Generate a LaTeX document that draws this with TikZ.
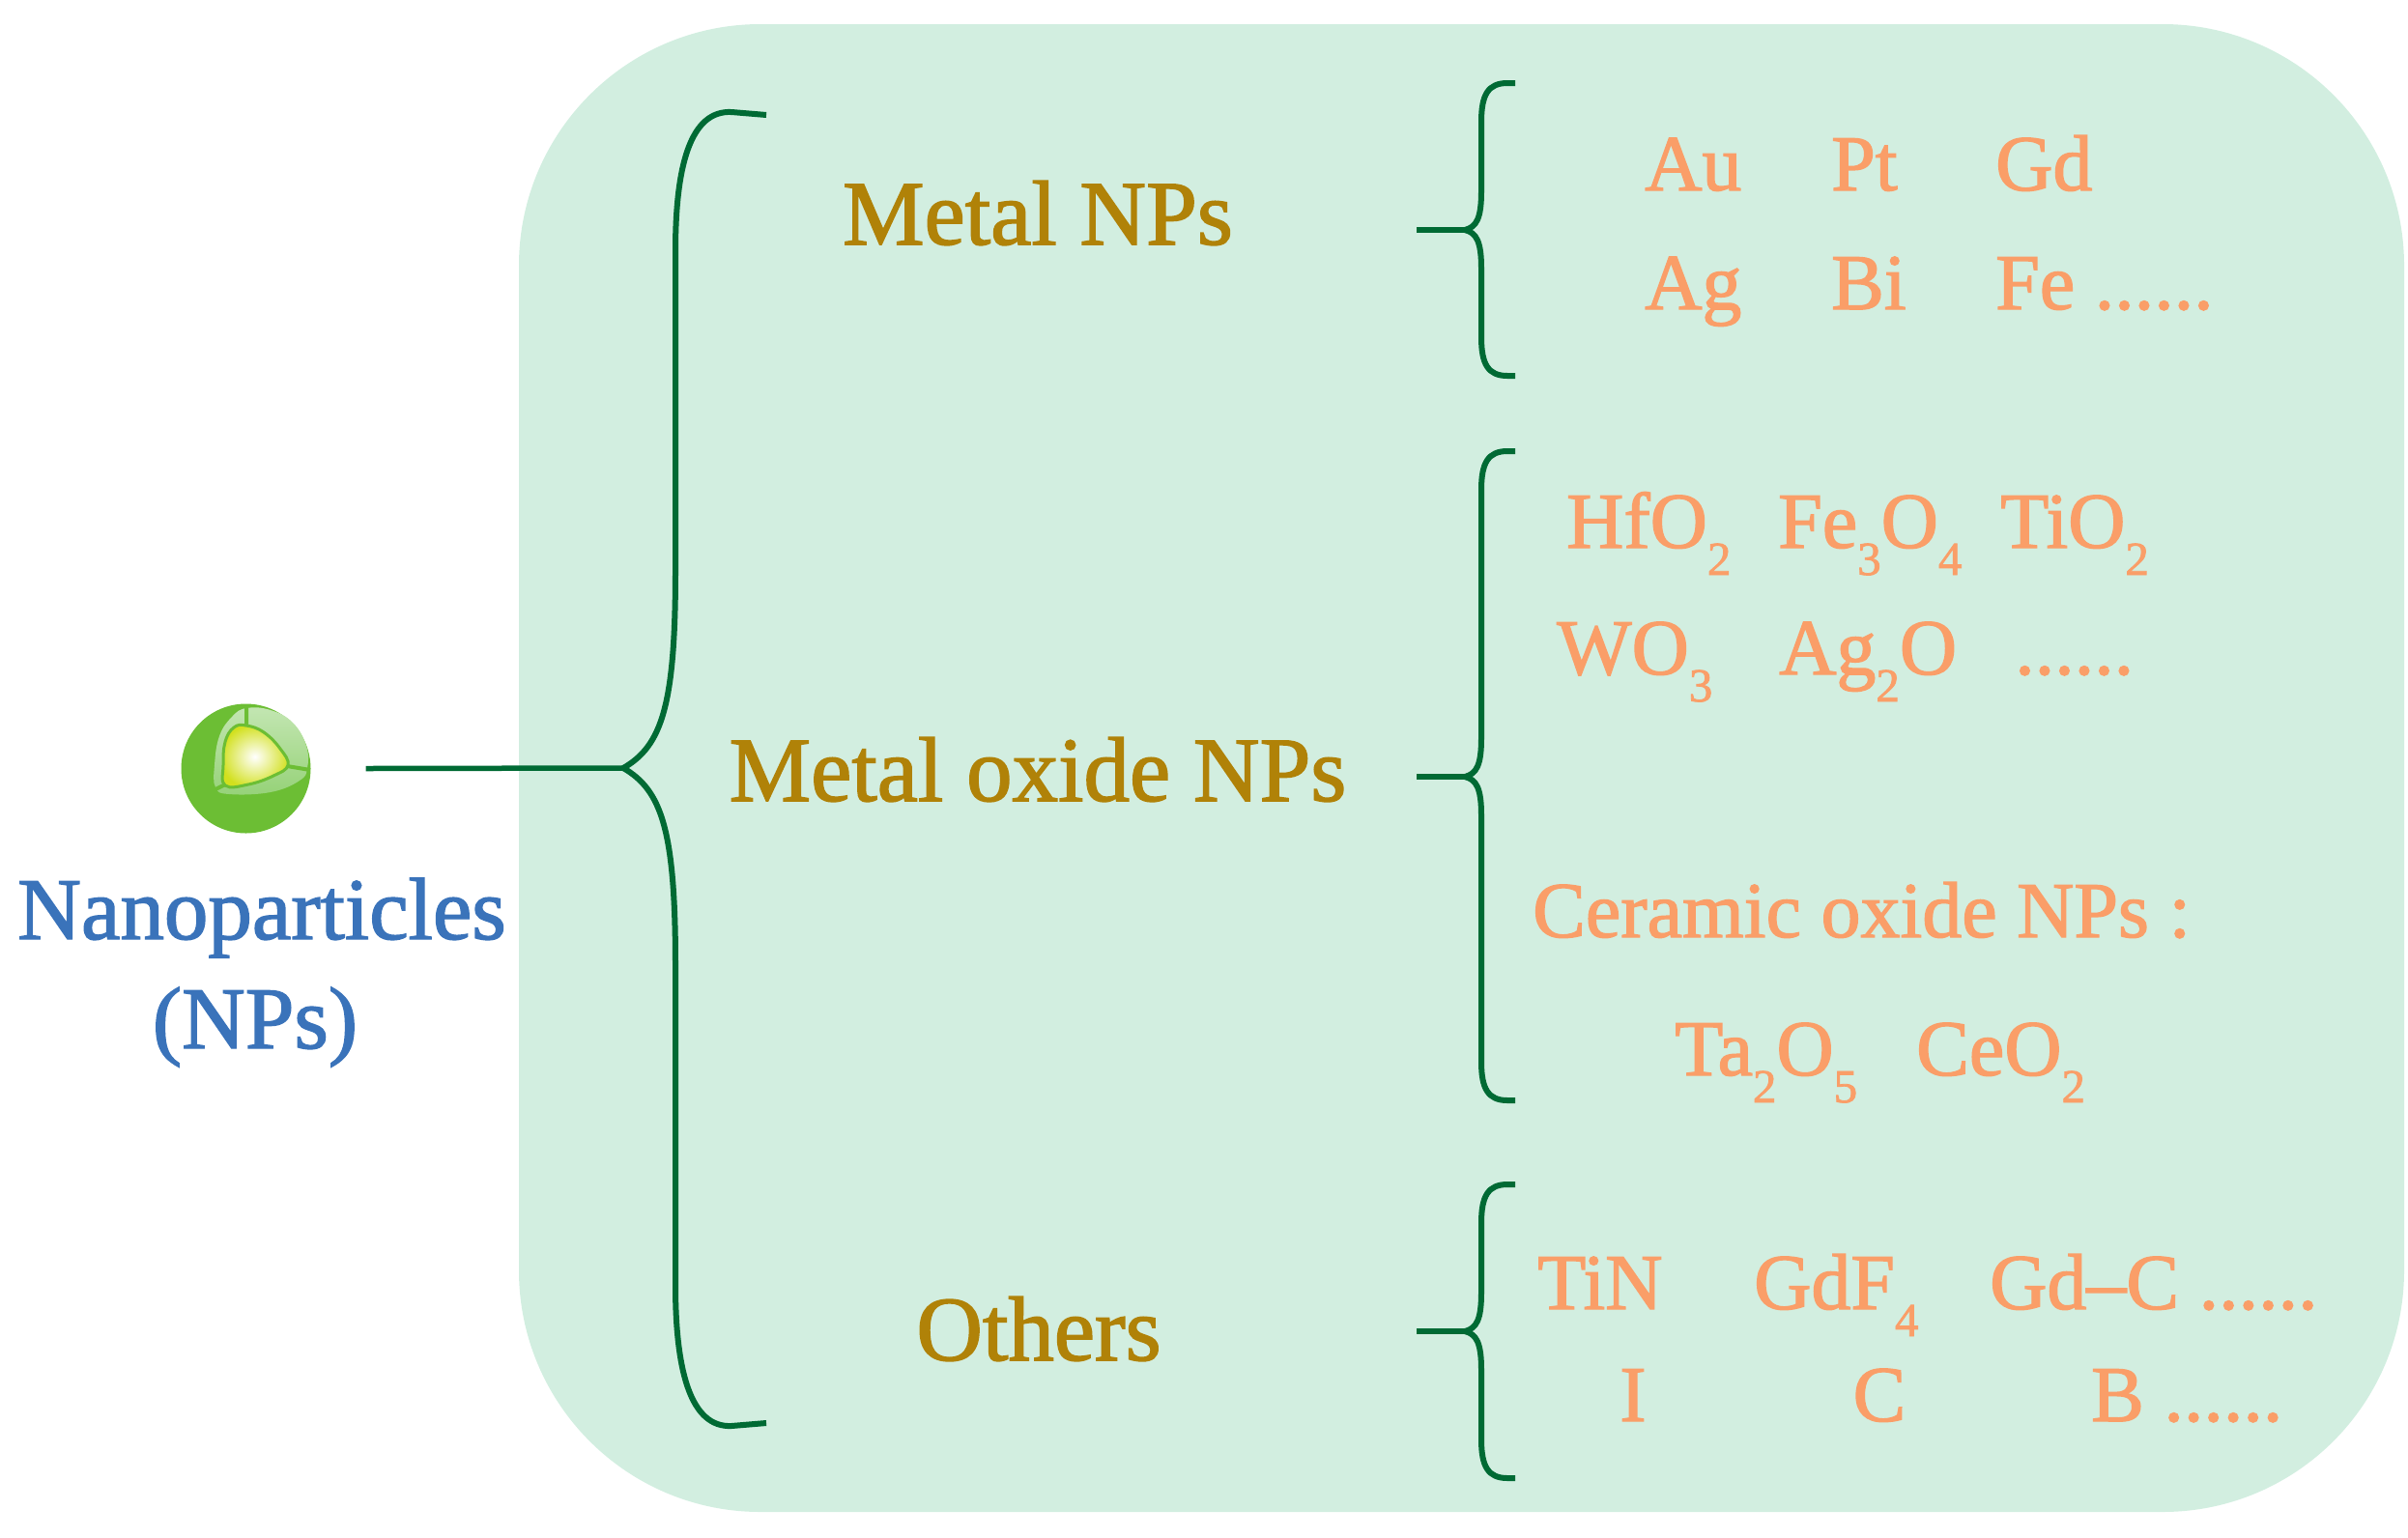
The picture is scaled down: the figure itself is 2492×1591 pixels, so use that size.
\documentclass[tikz,border=0pt]{standalone}
\usepackage{fontspec}
\setmainfont{Liberation Serif}[FakeBold=1.6]
\definecolor{bgc}{RGB}{210,238,224}
\definecolor{dgreen}{RGB}{0,106,52}
\definecolor{goldc}{RGB}{176,130,8}
\definecolor{elemc}{RGB}{250,158,104}
\definecolor{bluec}{RGB}{58,115,186}
\definecolor{ballgreen}{RGB}{108,190,52}
\definecolor{ringlight}{RGB}{195,230,178}
\definecolor{ringdark}{RGB}{150,210,120}
\definecolor{yelc}{RGB}{210,224,30}
\newcommand\sbs[1]{\raisebox{-28pt}{\fontsize{49}{50}\selectfont #1}}
\newcommand\SmBrace[4]{%
  \coordinate (#1) at (1516,#3);
  \draw[bracepath] (1568,#2) -- (1560,#2) .. controls (1540,#2) and (1533,{#2+12}) .. (1533,{#2+40})
    -- (1533,{#3-40}) .. controls (1533,{#3-12}) and (1528,{#3-3}) .. (#1)
    .. controls (1528,{#3+3}) and (1533,{#3+12}) .. (1533,{#3+40})
    -- (1533,{#4-40}) .. controls (1533,{#4-12}) and (1540,#4) .. (1560,#4) -- (1568,#4);
}
\tikzset{
  title/.style={font=\fontsize{95}{110}\selectfont, text=goldc, anchor=base, inner sep=0pt},
  item/.style={font=\fontsize{82}{96}\selectfont, text=elemc, anchor=base west, inner sep=0pt},
  nplabel/.style={font=\fontsize{91}{105}\selectfont, text=bluec, anchor=base, inner sep=0pt},
  bracepath/.style={draw=dgreen, line width=6pt, line join=round},
  stub/.style={draw=dgreen, line width=5.5pt},
}
\begin{document}
\begin{tikzpicture}[x=1pt,y=-1pt]
\useasboundingbox (0,0) rectangle (2492,1591);
% background panel
\fill[bgc, rounded corners=250pt] (537,25) rectangle (2488,1565);

% nanoparticle icon
\node[circle, fill=ballgreen, minimum size=134pt, inner sep=0pt] (np) at (254.5,795.5) {};
\shade[top color=ringlight, bottom color=ringdark] plot[smooth cycle, tension=0.7] coordinates
  {(255,733) (280,735) (303,748) (317,772) (318,795) (310,808) (280,820) (237,822) (223,815) (222,792) (227,762) (240,742)};
\shadedraw[inner color=white, outer color=yelc, draw=ballgreen, line width=3pt] plot[smooth cycle, tension=0.7] coordinates
  {(242,753) (255,751) (273,758) (290,775) (298,792) (283,803) (257,812) (233,813) (231,792) (233,768)};
\draw[ballgreen, line width=4pt] (255,730) -- (255,752) (297,793) -- (321,797) (233,812) -- (221,818);

% labels left
\node[nplabel] (nano) at (271,972) {Nanoparticles};
\node[nplabel] (npsl) at (264,1085) {(NPs)};

% big brace
\coordinate (tipA) at (645,795);
\draw[stub] ([xshift=57pt]np.east) -- (tipA);
\draw[bracepath] (793,119) -- (757,116) .. controls (715,114) and (699,170) .. (699,260)
  -- (699,590) .. controls (699,730) and (685,772) .. (tipA)
  .. controls (685,818) and (699,860) .. (699,1000)
  -- (699,1330) .. controls (699,1420) and (715,1478) .. (757,1476) -- (793,1473);

% category titles
\node[title] (metal) at (1074,253) {Metal NPs};
\node[title] (oxide) at (1074,829) {Metal oxide NPs};
\node[title] (others) at (1075,1408) {Others};

% small braces
\SmBrace{tipB}{86}{238}{389}
\SmBrace{tipC}{467}{804}{1139}
\SmBrace{tipD}{1226}{1378}{1530}
\coordinate (sB) at (1466,238);
\coordinate (sC) at (1466,804);
\coordinate (sD) at (1466,1378);
\draw[stub] (sB) -- (tipB);
\draw[stub] (sC) -- (tipC);
\draw[stub] (sD) -- (tipD);

% metal NPs
\node[item] (au) at (1702,197) {Au};
\node[item] (pt) at (1895,197) {Pt};
\node[item] (gd) at (2065,197) {Gd};
\node[item] (ag) at (1702,320) {Ag};
\node[item] (bi) at (1895,320) {Bi};
\node[item] (fe) at (2065,320) {Fe ......};

% metal oxide NPs
\node[item] (hfo) at (1621,567) {HfO\sbs{2}};
\node[item] (feo) at (1840,567) {Fe\sbs{3}O\sbs{4}};
\node[item] (tio) at (2070,567) {TiO\sbs{2}};
\node[item] (wo) at (1611,698) {WO\sbs{3}};
\node[item] (ago) at (1841,698) {Ag\sbs{2}O};
\node[item] (dots) at (2085,698) {......};
\node[item] (ceramic) at (1586,970) {Ceramic oxide NPs :};
\node[item] (tao) at (1733,1113) {Ta\sbs{2}O\sbs{5}};
\node[item] (ceo) at (1983,1113) {CeO\sbs{2}};

% others
\node[item] (tin) at (1591,1355) {TiN};
\node[item] (gdf) at (1815,1355) {GdF\sbs{4}};
\node[item] (gdc) at (2059,1355) {Gd–C ......};
\node[item, anchor=base] (iod) at (1690,1471) {I};
\node[item, anchor=base] (carb) at (1945,1471) {C};
\node[item] (bor) at (2164,1471) {B ......};
\end{tikzpicture}
\end{document}
